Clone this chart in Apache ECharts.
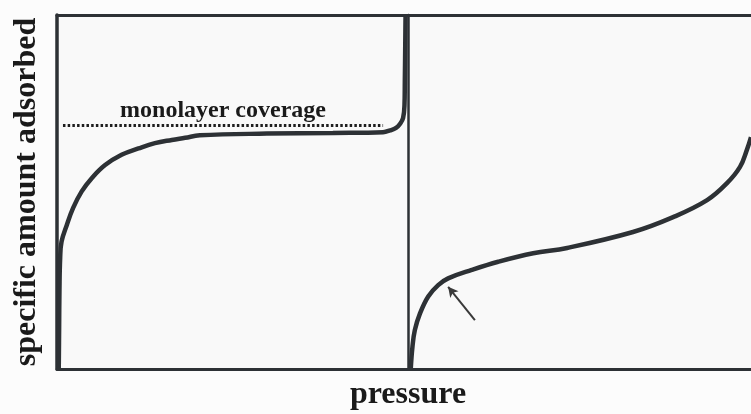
<!DOCTYPE html>
<html>
<head>
<meta charset="utf-8">
<script src="https://cdn.jsdelivr.net/npm/echarts@6/dist/echarts.min.js"></script>
<style>html,body{margin:0;padding:0;background:#fcfcfc;}#c{width:751px;height:414px;}</style>
</head>
<body>
<div id="c"></div>
<script>
// Type I isotherm (left panel): [pressure, amount adsorbed], relative units 0-100
const typeIPressure = [0.5, 0.6, 0.7, 0.9, 1.3, 2.8, 4.6, 7.0, 9.9, 13.7, 18.4, 23.2, 27.9, 32.7, 36.5, 40.7, 59.8, 78.6, 92.9, 94.9, 96.6, 97.7, 98.6, 99.0, 99.1, 99.2, 99.3];
const typeIAmount   = [0.0, 11.0, 22.3, 31.4, 36.0, 40.7, 45.5, 50.1, 53.9, 57.6, 60.5, 62.3, 63.8, 64.7, 65.3, 66.0, 66.5, 66.7, 66.9, 67.4, 68.1, 69.2, 70.9, 74.6, 81.6, 90.1, 100];
// Type II isotherm (right panel)
const typeIIPressure = [0.8, 1.3, 2.0, 3.5, 5.9, 8.8, 11.7, 18.6, 26.3, 36.5, 46.4, 65.6, 77.3, 87.2, 93.0, 96.8, 98.8, 100];
const typeIIAmount   = [0.0, 6.3, 11.0, 15.7, 20.5, 23.7, 25.6, 28.0, 30.3, 32.7, 34.2, 38.7, 42.9, 47.7, 52.5, 57.1, 61.9, 65.5];
// monolayer coverage level (left panel) and its extent
const monolayerLevel = 68.8;
const monolayerFrom = 1.7;
const monolayerTo = 92.9;
// arrow (right panel): tail and tip
const arrowTail = [19.5, 13.8];
const arrowTip = [11.7, 23.2];
const yTitle = 'specific amount adsorbed';
const xTitle = 'pressure';
const monolayerText = 'monolayer coverage';

const ink = '#2d3135';
const font = 'Liberation Serif';
const zip = (a, b) => a.map((v, i) => [v, b[i]]);

const hiddenAxis = (extra) => Object.assign({
  type: 'value', min: 0, max: 100,
  axisTick: {show: false}, axisLabel: {show: false}, splitLine: {show: false}
}, extra);

const chart = echarts.init(document.getElementById('c'));
chart.setOption({
  backgroundColor: '#fcfcfc',
  animation: false,
  title: {
    text: xTitle, left: 403, top: 374, textAlign: 'center',
    textStyle: {fontFamily: font, fontWeight: 'bold', fontSize: 32, color: '#1a1a1a'}
  },
  grid: [
    {left: 57, top: 15, width: 351, height: 354, show: true, borderWidth: 0, backgroundColor: '#f9f9f9'},
    {left: 408, top: 15, right: 0, height: 354, show: true, borderWidth: 0, backgroundColor: '#f9f9f9'}
  ],
  xAxis: [
    hiddenAxis({gridIndex: 0, position: 'bottom', axisLine: {onZero: false, lineStyle: {color: ink, width: 3}}}),
    hiddenAxis({gridIndex: 0, position: 'top', axisLine: {onZero: false, lineStyle: {color: ink, width: 3}}}),
    hiddenAxis({gridIndex: 1, position: 'bottom', axisLine: {onZero: false, lineStyle: {color: ink, width: 3}}}),
    hiddenAxis({gridIndex: 1, position: 'top', axisLine: {onZero: false, lineStyle: {color: ink, width: 3}}})
  ],
  yAxis: [
    hiddenAxis({gridIndex: 0, position: 'left', axisLine: {onZero: false, lineStyle: {color: ink, width: 3.5}},
      name: yTitle, nameLocation: 'middle', nameRotate: 90, nameGap: 14,
      nameTextStyle: {fontFamily: font, fontWeight: 'bold', fontSize: 32, color: '#1a1a1a'}}),
    hiddenAxis({gridIndex: 1, position: 'left', axisLine: {onZero: false, lineStyle: {color: ink, width: 2.5}}})
  ],
  series: [
    {
      type: 'line', xAxisIndex: 0, yAxisIndex: 0, data: zip(typeIPressure, typeIAmount),
      showSymbol: false, smooth: 0.4, lineStyle: {color: ink, width: 4.5}, z: 3,
      markLine: {
        silent: true, symbol: ['none', 'none'],
        lineStyle: {type: [2.5, 2.2], width: 3, color: '#1e1e1e'},
        label: {show: true, position: 'insideMiddleTop', formatter: monolayerText, distance: 3,
          fontFamily: font, fontWeight: 'bold', fontSize: 24, color: '#1a1a1a'},
        data: [[{coord: [monolayerFrom, monolayerLevel]}, {coord: [monolayerTo, monolayerLevel]}]]
      }
    },
    {
      type: 'line', xAxisIndex: 2, yAxisIndex: 1, data: zip(typeIIPressure, typeIIAmount),
      showSymbol: false, smooth: 0.4, lineStyle: {color: ink, width: 4.5}, z: 3,
      markLine: {
        silent: true, symbol: ['none', 'arrow'], symbolSize: [8, 10],
        lineStyle: {type: 'solid', width: 2, color: '#3a3a3a'},
        label: {show: false},
        data: [[{coord: arrowTail}, {coord: arrowTip}]]
      }
    }
  ]
});
</script>
</body>
</html>
